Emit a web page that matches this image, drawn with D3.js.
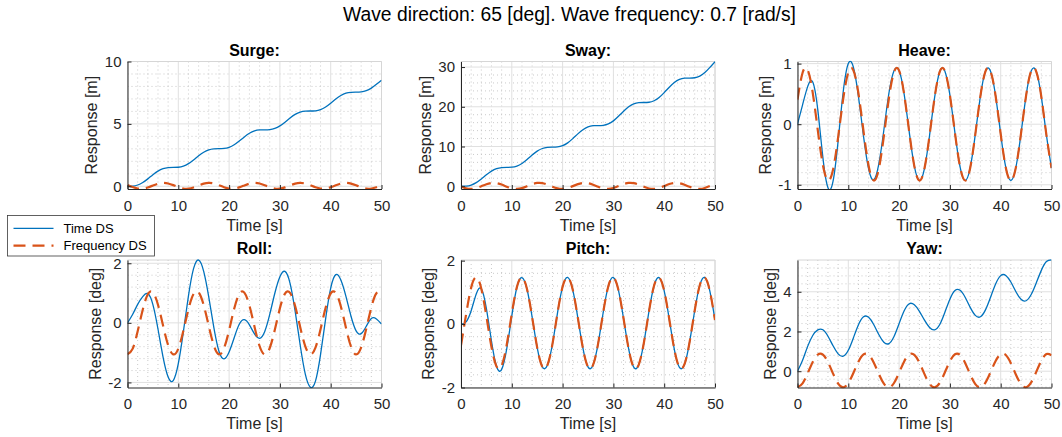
<!DOCTYPE html>
<html>
<head>
<meta charset="utf-8">
<script src="https://cdn.jsdelivr.net/npm/d3@7"></script>
<style>
  html, body { margin: 0; padding: 0; background: #fff; }
  #chart { width: 1062px; height: 437px; }
  text { font-family: Helvetica, "Liberation Sans", Arial, sans-serif; }
</style>
</head>
<body>
<div id="chart"></div>
<script>
// Sample times [s]
const timeS = [0, 1, 2, 3, 4, 5, 6, 7, 8, 9, 10, 11, 12, 13, 14, 15, 16, 17, 18, 19, 20,
  21, 22, 23, 24, 25, 26, 27, 28, 29, 30, 31, 32, 33, 34, 35, 36, 37, 38, 39, 40,
  41, 42, 43, 44, 45, 46, 47, 48, 49, 50];

// Time DS / Frequency DS responses
const surgeTime = [0, 0.013, 0.100, 0.297, 0.592, 0.924, 1.217, 1.412, 1.495, 1.508, 1.522,
  1.611, 1.811, 2.107, 2.440, 2.731, 2.923, 3.004, 3.016, 3.031, 3.122,
  3.325, 3.623, 3.956, 4.245, 4.434, 4.513, 4.524, 4.540, 4.634, 4.839,
  5.139, 5.472, 5.759, 5.945, 6.022, 6.032, 6.049, 6.145, 6.354, 6.655,
  6.987, 7.273, 7.456, 7.530, 7.540, 7.559, 7.657, 7.868, 8.171, 8.503];
const surgeFreq = [0.095, -0.066, -0.179, -0.191, -0.098, 0.059, 0.204, 0.270, 0.225, 0.091, -0.069,
  -0.180, -0.190, -0.095, 0.062, 0.207, 0.270, 0.223, 0.087, -0.073, -0.182,
  -0.189, -0.092, 0.066, 0.209, 0.270, 0.220, 0.083, -0.076, -0.184, -0.188,
  -0.088, 0.070, 0.212, 0.270, 0.218, 0.079, -0.080, -0.185, -0.186, -0.085,
  0.074, 0.215, 0.270, 0.215, 0.076, -0.083, -0.186, -0.185, -0.082, 0.078];

const swayTime = [0, 0.039, 0.298, 0.901, 1.815, 2.861, 3.792, 4.420, 4.695, 4.737, 4.782,
  5.069, 5.728, 6.719, 7.842, 8.837, 9.500, 9.787, 9.828, 9.880, 10.197,
  10.913, 11.979, 13.180, 14.238, 14.936, 15.232, 15.275, 15.334, 15.680, 16.455,
  17.598, 18.878, 19.995, 20.728, 21.034, 21.075, 21.143, 21.522, 22.355, 23.575,
  24.932, 26.111, 26.876, 27.189, 27.230, 27.306, 27.719, 28.613, 29.909, 31.345];
const swayFreq = [-0.097, -0.538, -0.688, -0.477, -0.005, 0.509, 0.820, 0.783, 0.416, -0.109, -0.546,
  -0.688, -0.468, 0.008, 0.520, 0.823, 0.778, 0.404, -0.122, -0.554, -0.686,
  -0.459, 0.021, 0.530, 0.827, 0.772, 0.393, -0.135, -0.561, -0.685, -0.450,
  0.034, 0.540, 0.830, 0.767, 0.380, -0.147, -0.568, -0.684, -0.441, 0.047,
  0.551, 0.832, 0.761, 0.369, -0.159, -0.575, -0.682, -0.431, 0.059, 0.561];

const heaveTime = [0, 0.32, 0.62, 0.696, 0.233, -0.551, -1.05, -0.942, -0.275, 0.536, 1.0,
  0.940, 0.457, -0.201, -0.739, -0.918, -0.661, -0.096, 0.515, 0.884, 0.885,
  0.492, -0.132, -0.694, -0.930, -0.729, -0.183, 0.446, 0.867, 0.880, 0.479,
  -0.148, -0.704, -0.930, -0.719, -0.168, 0.459, 0.873, 0.874, 0.465, -0.163,
  -0.714, -0.930, -0.709, -0.153, 0.473, 0.878, 0.869, 0.451, -0.179, -0.724];
const heaveFreq = [0.405, 0.849, 0.894, 0.518, -0.101, -0.673, -0.928, -0.749, -0.213, 0.418, 0.856,
  0.889, 0.506, -0.117, -0.685, -0.929, -0.739, -0.198, 0.432, 0.861, 0.885,
  0.492, -0.132, -0.694, -0.930, -0.729, -0.183, 0.446, 0.867, 0.880, 0.479,
  -0.148, -0.704, -0.930, -0.719, -0.168, 0.459, 0.873, 0.874, 0.465, -0.163,
  -0.714, -0.930, -0.709, -0.153, 0.473, 0.878, 0.869, 0.451, -0.179, -0.724];

const rollTime = [0, 0.28, 0.62, 0.88, 0.98, 0.614, -0.206, -1.148, -1.818, -1.937, -1.372,
  -0.297, 0.908, 1.818, 2.107, 1.730, 0.863, -0.161, -0.951, -1.208, -0.978,
  -0.499, -0.048, 0.108, -0.066, -0.372, -0.52, -0.296, 0.284, 0.993, 1.548,
  1.726, 1.327, 0.394, -0.752, -1.721, -2.16, -1.954, -1.064, 0.134, 1.164,
  1.618, 1.437, 0.889, 0.221, -0.268, -0.363, -0.116, 0.150, 0.13, -0.04];
const rollFreq = [-1.055, -0.875, -0.283, 0.441, 0.958, 1.025, 0.610, -0.092, -0.751, -1.057, -0.865,
  -0.266, 0.457, 0.966, 1.020, 0.595, -0.110, -0.764, -1.058, -0.854, -0.249,
  0.473, 0.973, 1.014, 0.580, -0.127, -0.777, -1.059, -0.844, -0.232, 0.489,
  0.981, 1.008, 0.564, -0.145, -0.790, -1.059, -0.833, -0.214, 0.505, 0.987,
  1.003, 0.549, -0.163, -0.802, -1.060, -0.822, -0.197, 0.519, 0.993, 0.997];

const pitchTime = [0, 0.07, 0.42, 0.95, 1.112, 0.49, -0.537, -1.338, -1.428, -0.780, 0.258,
  1.161, 1.465, 1.097, 0.223, -0.742, -1.344, -1.298, -0.631, 0.350, 1.179,
  1.469, 1.080, 0.198, -0.761, -1.351, -1.288, -0.609, 0.373, 1.194, 1.467,
  1.064, 0.174, -0.782, -1.358, -1.276, -0.588, 0.397, 1.208, 1.464, 1.047,
  0.151, -0.802, -1.364, -1.266, -0.566, 0.420, 1.222, 1.463, 1.029, 0.126];
const pitchFreq = [-0.673, 0.304, 1.149, 1.470, 1.113, 0.246, -0.722, -1.337, -1.308, -0.653, 0.327,
  1.165, 1.469, 1.097, 0.223, -0.742, -1.344, -1.298, -0.631, 0.350, 1.179,
  1.469, 1.080, 0.198, -0.761, -1.351, -1.288, -0.609, 0.373, 1.194, 1.467,
  1.064, 0.174, -0.782, -1.358, -1.276, -0.588, 0.397, 1.208, 1.464, 1.047,
  0.151, -0.802, -1.364, -1.266, -0.566, 0.420, 1.222, 1.463, 1.029, 0.126];

const yawTime = [0, 0.55, 1.25, 1.8, 2.08, 2.086, 1.763, 1.279, 0.876, 0.755, 1.053,
  1.677, 2.342, 2.741, 2.713, 2.351, 1.847, 1.460, 1.392, 1.748, 2.395,
  3.041, 3.400, 3.345, 3.017, 2.569, 2.203, 2.082, 2.354, 2.961, 3.629,
  4.061, 4.072, 3.724, 3.214, 2.814, 2.740, 3.087, 3.725, 4.393, 4.813,
  4.824, 4.491, 4.002, 3.620, 3.549, 3.860, 4.444, 5.078, 5.521, 5.61];
const yawFreq = [-0.81, -0.610, -0.105, 0.469, 0.841, 0.836, 0.457, -0.119, -0.620, -0.81, -0.601,
  -0.090, 0.481, 0.846, 0.831, 0.444, -0.133, -0.629, -0.809, -0.592, -0.076,
  0.494, 0.850, 0.825, 0.431, -0.147, -0.637, -0.809, -0.581, -0.062, 0.506,
  0.854, 0.819, 0.418, -0.161, -0.646, -0.808, -0.572, -0.048, 0.518, 0.858,
  0.814, 0.406, -0.175, -0.654, -0.807, -0.562, -0.034, 0.530, 0.862, 0.808];

// Labels and ticks
const mainTitle = "Wave direction: 65 [deg]. Wave frequency: 0.7 [rad/s]";
const panelTitles = ["Surge:", "Sway:", "Heave:", "Roll:", "Pitch:", "Yaw:"];
const yLabels = ["Response [m]", "Response [m]", "Response [m]",
  "Response [deg]", "Response [deg]", "Response [deg]"];
const xLabel = "Time [s]";
const seriesNames = ["Time DS", "Frequency DS"];
const xTicks = [0, 10, 20, 30, 40, 50];
const yTicks = [[0, 5, 10], [0, 10, 20, 30], [-1, 0, 1], [-2, 0, 2], [-2, 0, 2], [0, 2, 4]];
const yLimits = [[-0.22, 10], [-0.7, 31.4], [-1.07, 1.035], [-2.17, 2.11], [-2, 2.02], [-0.82, 5.6]];
const yMinorStep = [1, 2, 0.2, 0.4, 0.4, 0.4];
const xMinorStep = 2;
const timeSeries = [surgeTime, swayTime, heaveTime, rollTime, pitchTime, yawTime];
const freqSeries = [surgeFreq, swayFreq, heaveFreq, rollFreq, pitchFreq, yawFreq];

// Layout
const colLeft = [127.5, 461, 797.5];
const plotW = 254;
const rowTop = [61.5, 260];
const plotH = 127.5;
const blue = "#0072BD";
const orange = "#D95319";
const axisColor = "#262626";
const tickFmt = (d) => String(d);

const svg = d3.select("#chart").append("svg")
  .attr("width", 1062)
  .attr("height", 437);

svg.append("text")
  .attr("x", 343)
  .attr("y", 21)
  .attr("text-anchor", "start")
  .style("font-size", "19.3px")
  .attr("fill", "#000")
  .text(mainTitle);

const defs = svg.append("defs");

panelTitles.forEach((title, i) => {
  const col = i % 3, row = Math.floor(i / 3);
  const left = colLeft[col], top = rowTop[row];
  const x = d3.scaleLinear().domain([0, 50]).range([left, left + plotW]);
  const y = d3.scaleLinear().domain(yLimits[i]).range([top + plotH, top]);
  const g = svg.append("g");

  // minor grid (dotted)
  const isMajor = (v, ticks) => ticks.some((t) => Math.abs(t - v) < 1e-6);
  const xMinor = d3.range(0, 50 + 1e-6, xMinorStep).filter((v) => !isMajor(v, xTicks));
  const [lo, hi] = yLimits[i];
  const st = yMinorStep[i];
  const yMinor = d3.range(Math.ceil(lo / st) * st, hi + 1e-6, st)
    .map((v) => Math.round(v * 1000) / 1000)
    .filter((v) => !isMajor(v, yTicks[i]) && v > lo && v < hi);

  g.selectAll(".xminor").data(xMinor).enter().append("line")
    .attr("x1", (d) => x(d)).attr("x2", (d) => x(d))
    .attr("y1", top).attr("y2", top + plotH)
    .attr("stroke", "#bdbdbd").attr("stroke-width", 0.8)
    .attr("stroke-dasharray", "1,3");
  g.selectAll(".yminor").data(yMinor).enter().append("line")
    .attr("x1", left).attr("x2", left + plotW)
    .attr("y1", (d) => y(d)).attr("y2", (d) => y(d))
    .attr("stroke", "#bdbdbd").attr("stroke-width", 0.8)
    .attr("stroke-dasharray", "1,3");

  // major grid
  g.selectAll(".xmajor").data(xTicks).enter().append("line")
    .attr("x1", (d) => x(d)).attr("x2", (d) => x(d))
    .attr("y1", top).attr("y2", top + plotH)
    .attr("stroke", "#e0e0e0").attr("stroke-width", 1);
  g.selectAll(".ymajor").data(yTicks[i]).enter().append("line")
    .attr("x1", left).attr("x2", left + plotW)
    .attr("y1", (d) => y(d)).attr("y2", (d) => y(d))
    .attr("stroke", "#e0e0e0").attr("stroke-width", 1);

  // light top/right edges
  g.append("path")
    .attr("d", `M${left},${top}H${left + plotW}V${top + plotH}`)
    .attr("fill", "none").attr("stroke", "#d6d6d6").attr("stroke-width", 1);

  // data lines
  defs.append("clipPath").attr("id", "clip" + i)
    .append("rect").attr("x", left).attr("y", top - 1)
    .attr("width", plotW).attr("height", plotH + 2);

  const line = d3.line()
    .x((d, k) => x(timeS[k]))
    .y((d) => y(d))
    .curve(d3.curveNatural);

  const lines = g.append("g").attr("clip-path", `url(#clip${i})`);
  lines.append("path")
    .attr("d", line(timeSeries[i]))
    .attr("fill", "none").attr("stroke", blue).attr("stroke-width", 1.3);
  lines.append("path")
    .attr("d", line(freqSeries[i]))
    .attr("fill", "none").attr("stroke", orange).attr("stroke-width", 2.2)
    .attr("stroke-dasharray", "12,7");

  // axes
  const xAxis = g.append("g")
    .attr("transform", `translate(0,${top + plotH})`)
    .call(d3.axisBottom(x).tickValues(xTicks).tickFormat(tickFmt)
      .tickSizeInner(-4).tickSizeOuter(0).tickPadding(11));
  const yAxis = g.append("g")
    .attr("transform", `translate(${left},0)`)
    .call(d3.axisLeft(y).tickValues(yTicks[i]).tickFormat(tickFmt)
      .tickSizeInner(-4).tickSizeOuter(0).tickPadding(6));

  [xAxis, yAxis].forEach((a) => {
    a.attr("font-family", null).attr("font-size", null);
    a.select(".domain").attr("stroke", axisColor);
    a.selectAll(".tick line").attr("stroke", axisColor);
    a.selectAll(".tick text").attr("fill", axisColor).style("font-size", "15px");
  });

  // y label placed beside the widest tick label
  let maxW = 0;
  yAxis.selectAll(".tick text").each(function () {
    maxW = Math.max(maxW, this.getComputedTextLength());
  });
  const ylx = left - 6 - maxW - 13;
  g.append("text")
    .attr("transform", `translate(${ylx},${top + plotH / 2}) rotate(-90)`)
    .attr("text-anchor", "middle")
    .attr("dominant-baseline", "central")
    .style("font-size", "16px")
    .attr("fill", axisColor)
    .text(yLabels[i]);

  // x label
  g.append("text")
    .attr("x", left + plotW / 2)
    .attr("y", top + plotH + 41.5)
    .attr("text-anchor", "middle")
    .style("font-size", "16px")
    .attr("fill", axisColor)
    .text(xLabel);

  // title
  g.append("text")
    .attr("x", left + plotW / 2)
    .attr("y", top - 6)
    .attr("text-anchor", "middle")
    .style("font-size", "16px")
    .style("font-weight", "bold")
    .attr("fill", "#000")
    .text(title);
});

// legend
const legend = svg.append("g").attr("transform", "translate(7.5,215.5)");
legend.append("rect")
  .attr("width", 147).attr("height", 40.5)
  .attr("fill", "#fff").attr("stroke", "#3a3a3a").attr("stroke-width", 0.8);
const legendStyles = [
  { color: blue, width: 1.3, dash: null },
  { color: orange, width: 2.2, dash: "12,7" },
];
seriesNames.forEach((name, k) => {
  const ly = 12.8 + k * 17.4;
  legend.append("line")
    .attr("x1", 6).attr("x2", 46).attr("y1", ly).attr("y2", ly)
    .attr("stroke", legendStyles[k].color)
    .attr("stroke-width", legendStyles[k].width)
    .attr("stroke-dasharray", legendStyles[k].dash);
  legend.append("text")
    .attr("x", 56).attr("y", ly + 4.6)
    .style("font-size", "13px")
    .attr("fill", "#000")
    .text(name);
});
</script>
</body>
</html>
